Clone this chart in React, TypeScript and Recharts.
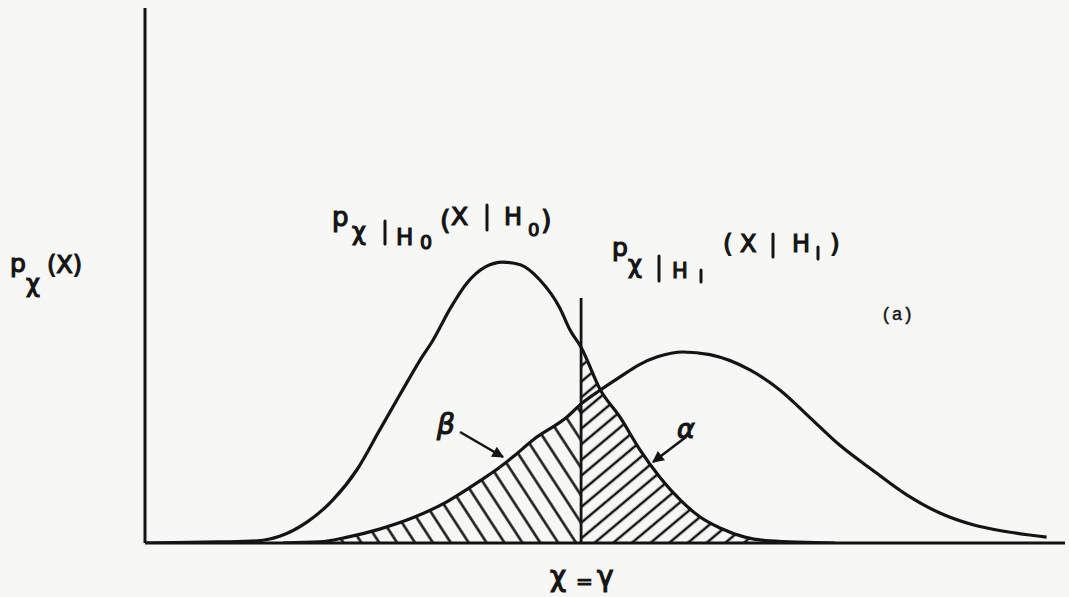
import React from "react";
import { ComposedChart, Line, Area, XAxis, YAxis, ReferenceLine } from "recharts";

// Density under H0 (sample points along the x axis)
const h0X = [0, 0.8, 1.22, 1.47, 1.76, 2.04, 2.3, 2.55, 2.77, 2.99, 3.13, 3.32, 3.5, 3.7, 3.89, 4.08, 4.29, 4.51, 4.62, 4.74, 4.95, 5.16, 5.38, 5.82, 6.03, 6.25, 6.52, 6.79, 7.5];
const h0P = [0, 0.002, 0.004, 0.013, 0.039, 0.08, 0.136, 0.211, 0.277, 0.342, 0.379, 0.439, 0.486, 0.516, 0.525, 0.52, 0.492, 0.439, 0.398, 0.366, 0.286, 0.236, 0.174, 0.08, 0.049, 0.028, 0.011, 0.004, 0];

// Density under H1
const h1X = [1.5, 1.9, 2.2, 2.55, 2.91, 3.28, 3.64, 3.86, 4.0, 4.22, 4.59, 4.74, 4.95, 5.16, 5.38, 5.57, 5.85, 6.14, 6.58, 6.9, 7.23, 7.55, 7.91, 8.28, 8.64, 9.0, 9.37, 9.8];
const h1P = [0, 0.002, 0.011, 0.026, 0.047, 0.077, 0.116, 0.142, 0.161, 0.193, 0.236, 0.26, 0.286, 0.31, 0.334, 0.348, 0.357, 0.352, 0.323, 0.286, 0.234, 0.183, 0.136, 0.09, 0.056, 0.034, 0.021, 0.011];

// Decision threshold gamma and the height of its marker line
const threshold = 4.74;
const thresholdTop = 0.458;

const h0Data = h0X.map((x, i) => ({ x, p: h0P[i] }));
const h1Data = h1X.map((x, i) => ({ x, p: h1P[i] }));
const alphaData = h0Data.filter((d) => d.x >= threshold);
const betaData = h1Data.filter((d) => d.x <= threshold);

const ink = "#141414";
const font = "DejaVu Sans";

const T = (props: { x: number; y: number; s: number; children: React.ReactNode; italic?: boolean }) => (
  <text
    x={props.x}
    y={props.y}
    fontSize={props.s}
    fontFamily={font}
    fontStyle={props.italic ? "italic" : "normal"}
    fill={ink}
    stroke={ink}
    strokeWidth={1.2}
  >
    {props.children}
  </text>
);

// vertical bar used inside the conditional densities
const Bar = ({ x, y1, y2 }: { x: number; y1: number; y2: number }) => (
  <line x1={x} y1={y1} x2={x} y2={y2} stroke={ink} strokeWidth={3} strokeLinecap="round" />
);

const Labels = () => (
  <svg width={1069} height={597} style={{ position: "absolute", left: 0, top: 0, pointerEvents: "none" }}>
    <defs>
      <marker id="arrowHead" viewBox="0 0 10 10" refX="9" refY="5" markerWidth="5.5" markerHeight="4.5" orient="auto">
        <path d="M0,0 L10,5 L0,10 z" fill={ink} />
      </marker>
    </defs>

    {/* p_X(X) */}
    <T x={10} y={272} s={25}>p</T>
    <T x={26} y={292} s={24}>χ</T>
    <T x={47} y={273} s={24}>(X)</T>

    {/* p_{X|H0}(X|H0) */}
    <T x={332} y={226} s={26}>p</T>
    <T x={352} y={240} s={24}>χ</T>
    <Bar x={385} y1={221} y2={244} />
    <T x={396} y={245} s={23}>H</T>
    <T x={420} y={249} s={19}>0</T>
    <T x={440} y={229} s={27}>(</T>
    <T x={451} y={225} s={25}>X</T>
    <Bar x={487} y1={205} y2={230} />
    <T x={504} y={225} s={24}>H</T>
    <T x={528} y={236} s={18}>0</T>
    <T x={541} y={229} s={27}>)</T>

    {/* p_{X|H1}(X|H1) */}
    <T x={612} y={256} s={25}>p</T>
    <T x={628} y={273} s={24}>χ</T>
    <Bar x={659} y1={256} y2={281} />
    <T x={672} y={278} s={21}>H</T>
    <Bar x={701} y1={270} y2={282} />
    <T x={723} y={252} s={25}>(</T>
    <T x={740} y={252} s={24}>X</T>
    <Bar x={773} y1={234} y2={257} />
    <T x={792} y={252} s={24}>H</T>
    <Bar x={818} y1={247} y2={259} />
    <T x={830} y={252} s={25}>)</T>

    <text x={881} y={320} fontSize={18} fontFamily="Liberation Mono" fill={ink} stroke={ink} strokeWidth={0.4}>(a)</text>

    {/* beta / alpha callouts */}
    <T x={437} y={434} s={28} italic>β</T>
    <line x1={460} y1={432} x2={503} y2={457} stroke={ink} strokeWidth={2.6} markerEnd="url(#arrowHead)" />
    <T x={677} y={438} s={27} italic>α</T>
    <line x1={686} y1={437} x2={653} y2={462} stroke={ink} strokeWidth={2.6} markerEnd="url(#arrowHead)" />

    {/* threshold label */}
    <T x={550} y={586} s={28}>χ</T>
    <T x={576} y={588} s={20}>=</T>
    <T x={597} y={586} s={28}>γ</T>
  </svg>
);

export default function App() {
  return (
    <div style={{ position: "absolute", left: 0, top: 0, width: 1069, height: 597, background: "#f7f7f5" }}>
      <ComposedChart width={1069} height={597} margin={{ top: 8, right: 4, bottom: 54, left: 145 }}>
        <defs>
          <pattern id="hatchBeta" patternUnits="userSpaceOnUse" width={15} height={15} patternTransform="rotate(-33)">
            <line x1={7.5} y1={0} x2={7.5} y2={15} stroke={ink} strokeWidth={2.5} />
          </pattern>
          <pattern id="hatchAlpha" patternUnits="userSpaceOnUse" width={12} height={12} patternTransform="rotate(50)">
            <line x1={6} y1={0} x2={6} y2={12} stroke={ink} strokeWidth={2.5} />
          </pattern>
        </defs>
        <XAxis type="number" dataKey="x" domain={[0, 10]} hide allowDataOverflow />
        <YAxis type="number" domain={[0, 1]} hide allowDataOverflow />
        <Area data={betaData} dataKey="p" type="monotone" stroke="none" fill="url(#hatchBeta)" fillOpacity={1} isAnimationActive={false} />
        <Area data={alphaData} dataKey="p" type="monotone" stroke="none" fill="url(#hatchAlpha)" fillOpacity={1} isAnimationActive={false} />
        <Line data={h0Data} dataKey="p" type="monotone" stroke={ink} strokeWidth={3.2} dot={false} activeDot={false} isAnimationActive={false} />
        <Line data={h1Data} dataKey="p" type="monotone" stroke={ink} strokeWidth={3.2} dot={false} activeDot={false} isAnimationActive={false} />
        {/* axes */}
        <ReferenceLine x={0} stroke={ink} strokeWidth={3} />
        <ReferenceLine y={0} stroke={ink} strokeWidth={3} />
        <ReferenceLine
          segment={[
            { x: threshold, y: 0 },
            { x: threshold, y: thresholdTop },
          ]}
          stroke={ink}
          strokeWidth={2.8}
        />
      </ComposedChart>
      <Labels />
    </div>
  );
}
